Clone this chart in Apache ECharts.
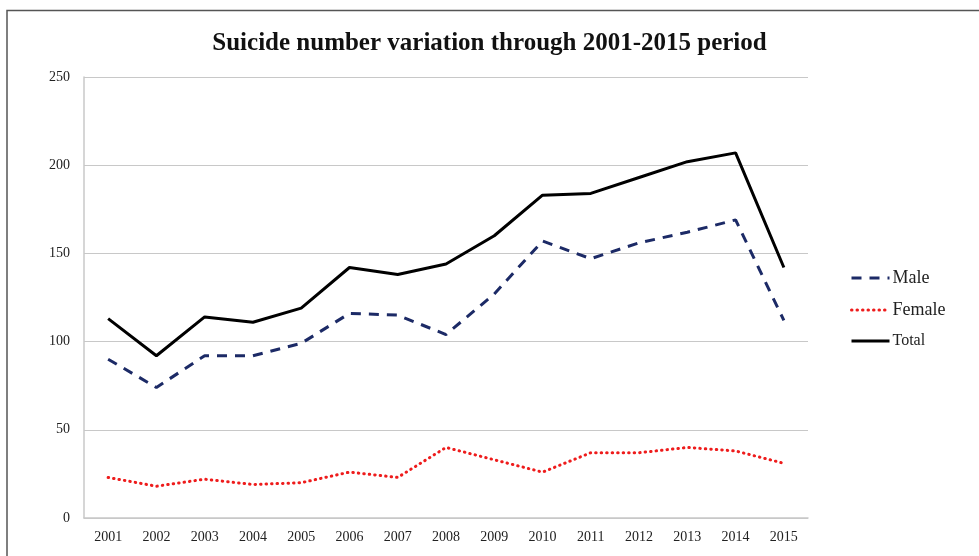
<!DOCTYPE html>
<html>
<head>
<meta charset="utf-8">
<script src="https://cdn.jsdelivr.net/npm/echarts@6/dist/echarts.min.js"></script>
<style>
html,body{margin:0;padding:0;background:#fff;}
#chart{width:979px;height:556px;}
</style>
</head>
<body>
<div id="chart"></div>
<script>
var years = ['2001','2002','2003','2004','2005','2006','2007','2008','2009','2010','2011','2012','2013','2014','2015'];
var male   = [90, 74, 92, 92, 99, 116, 115, 104, 127, 157, 147, 156, 162, 169, 112];
var female = [23, 18, 22, 19, 20, 26, 23, 40, 33, 26, 37, 37, 40, 38, 31];
var total  = [113, 92, 114, 111, 119, 142, 138, 144, 160, 183, 184, 193, 202, 207, 142];
var yTicks = [0, 50, 100, 150, 200, 250];

var serif = '"Liberation Serif","Times New Roman",serif';
var chart = echarts.init(document.getElementById('chart'));
chart.setOption({
  animation: false,
  backgroundColor: '#fff',
  graphic: [{
    type: 'rect',
    shape: {x: 7, y: 10.5, width: 1100, height: 700},
    style: {fill: 'none', stroke: '#555', lineWidth: 1.5},
    silent: true
  }],
  title: {
    text: 'Suicide number variation through 2001-2015 period',
    left: 'center',
    top: 26,
    textStyle: {fontFamily: serif, fontSize: 25, fontWeight: 'bold', color: '#111'}
  },
  grid: {left: 84, right: 171, top: 77, bottom: 38, containLabel: false},
  legend: {
    orient: 'vertical',
    left: 845,
    top: 264,
    itemWidth: 38,
    itemHeight: 12,
    itemGap: 14,
    itemStyle: {opacity: 0},
    lineStyle: {width: 3},
    textStyle: {fontFamily: serif, fontSize: 18, color: '#222', padding: [0,0,0,-2]},
    data: [
      {name: 'Male'},
      {name: 'Female'},
      {name: 'Total', textStyle: {fontSize: 16}}
    ]
  },
  xAxis: {
    type: 'category',
    data: years,
    boundaryGap: true,
    axisLine: {lineStyle: {color: '#c8c8c8', width: 1.5}},
    axisTick: {show: false},
    axisLabel: {fontFamily: serif, fontSize: 14, color: '#222', margin: 12}
  },
  yAxis: {
    type: 'value',
    min: 0,
    max: 250,
    interval: 50,
    axisLine: {show: true, lineStyle: {color: '#c8c8c8', width: 1.5}},
    axisTick: {show: false},
    axisLabel: {fontFamily: serif, fontSize: 14, color: '#222', margin: 14,
      formatter: function(v){ return yTicks.indexOf(v) >= 0 ? String(v) : ''; }},
    splitLine: {lineStyle: {color: '#c8c8c8', width: 1.2}}
  },
  series: [
    {name: 'Male', type: 'line', data: male, symbol: 'none',
     lineStyle: {color: '#1c2a66', width: 3, type: [10, 8]}, itemStyle: {color: '#1c2a66'}},
    {name: 'Female', type: 'line', data: female, symbol: 'none',
     lineStyle: {color: '#ee1c1c', width: 3, type: [0.5, 5], cap: 'round'}, itemStyle: {color: '#ee1c1c'}},
    {name: 'Total', type: 'line', data: total, symbol: 'none',
     lineStyle: {color: '#000', width: 3}, itemStyle: {color: '#000'}}
  ]
});
</script>
</body>
</html>
